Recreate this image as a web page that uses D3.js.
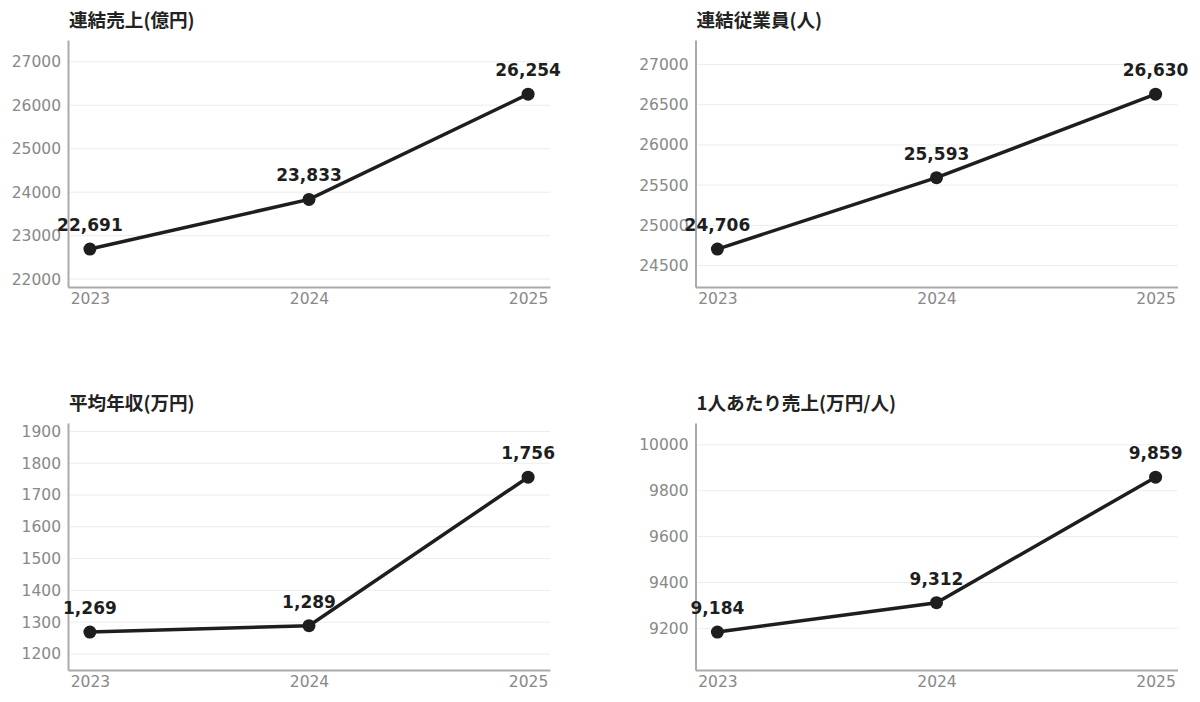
<!DOCTYPE html>
<html>
<head>
<meta charset="utf-8">
<script src="https://cdn.jsdelivr.net/npm/d3@7"></script>
<style>
  html, body { margin: 0; padding: 0; background: #fff; }
  svg { display: block; }
</style>
</head>
<body>
<div id="chart"></div>
<script>
// chart values
var years = ["2023", "2024", "2025"];
var sales = [22691, 23833, 26254];          // 連結売上(億円)
var employees = [24706, 25593, 26630];      // 連結従業員(人)
var salary = [1269, 1289, 1756];            // 平均年収(万円)
var salesPerHead = [9184, 9312, 9859];      // 1人あたり売上(万円/人)
var titles = ["連結売上(億円)", "連結従業員(人)", "平均年収(万円)", "1人あたり売上(万円/人)"];

var W = 1200, H = 702;
var plotW = 482, plotH = 247;

var panels = [
  {title: titles[0], values: sales,        ox: 68,    oy: 40},
  {title: titles[1], values: employees,    ox: 695.5, oy: 40},
  {title: titles[2], values: salary,       ox: 68,    oy: 423},
  {title: titles[3], values: salesPerHead, ox: 695.5, oy: 423}
];

var svg = d3.select("#chart").append("svg")
    .attr("width", W)
    .attr("height", H);

var numFont = "'DejaVu Sans', sans-serif";
var fmt = d3.format(",");

panels.forEach(function(p) {

    var g = svg.append("g").attr("transform", "translate(" + p.ox + "," + p.oy + ")");

    var lo = d3.min(p.values), hi = d3.max(p.values), r = hi - lo;

    var x = d3.scalePoint().domain(years).range([0, plotW]).padding(0.1);
    var y = d3.scaleLinear().domain([lo - r * 0.245, hi + r * 0.35]).range([plotH, 0]);

    // title
    g.append("text")
        .attr("x", 1)
        .attr("y", -13.5)
        .text(p.title)
        .style("font-family", "'Noto Sans CJK JP', sans-serif")
        .style("font-weight", "700")
        .style("font-size", "18.6px")
        .style("fill", "#222");

    // grid lines
    g.append("g")
        .selectAll("line")
        .data(y.ticks(6))
        .enter()
        .append("line")
        .attr("x1", 2)
        .attr("x2", plotW)
        .attr("y1", function(d) { return y(d); })
        .attr("y2", function(d) { return y(d); })
        .style("stroke", "#ececec")
        .style("stroke-width", 1);

    // y axis
    var yAxis = g.append("g")
        .call(d3.axisLeft(y).ticks(6).tickSize(0).tickPadding(7).tickFormat(d3.format("d")));
    yAxis.select(".domain").style("stroke", "#aaa").style("stroke-width", 2);
    yAxis.selectAll("text")
        .style("font-family", numFont)
        .style("font-size", "15.5px")
        .style("fill", "#888");

    // x axis
    var xAxis = g.append("g")
        .attr("transform", "translate(0," + plotH + ")")
        .call(d3.axisBottom(x).tickSize(0).tickPadding(6));
    xAxis.select(".domain").style("stroke", "#aaa").style("stroke-width", 2);
    xAxis.selectAll("text")
        .style("font-family", numFont)
        .style("font-size", "15.5px")
        .style("fill", "#888");

    var pts = years.map(function(yr, i) { return {year: yr, value: p.values[i]}; });

    // line
    g.append("path")
        .datum(pts)
        .attr("d", d3.line()
            .x(function(d) { return x(d.year); })
            .y(function(d) { return y(d.value); }))
        .style("fill", "none")
        .style("stroke", "#1e1e1e")
        .style("stroke-width", 3.5);

    // points
    g.selectAll("circle")
        .data(pts)
        .enter()
        .append("circle")
        .attr("cx", function(d) { return x(d.year); })
        .attr("cy", function(d) { return y(d.value); })
        .attr("r", 6.5)
        .style("fill", "#1e1e1e");

    // value labels
    g.selectAll("text.val")
        .data(pts)
        .enter()
        .append("text")
        .attr("class", "val")
        .attr("x", function(d) { return x(d.year); })
        .attr("y", function(d) { return y(d.value) - 18; })
        .attr("text-anchor", "middle")
        .text(function(d) { return fmt(d.value); })
        .style("font-family", numFont)
        .style("font-weight", "700")
        .style("font-size", "17px")
        .style("fill", "#1e1e1e");
});
</script>
</body>
</html>
